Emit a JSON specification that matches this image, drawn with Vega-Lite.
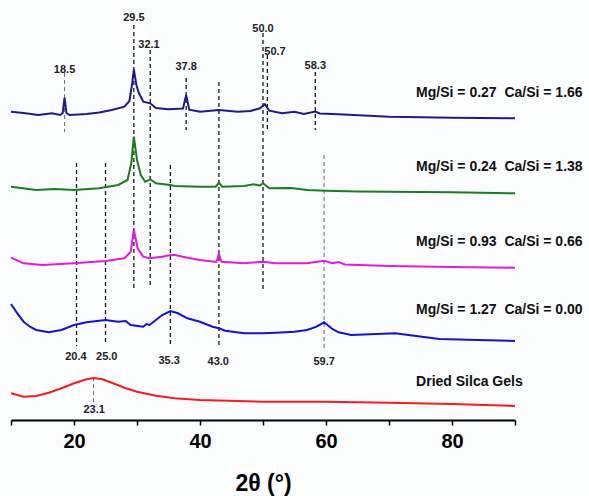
{
  "$schema": "https://vega.github.io/schema/vega-lite/v6.json",
  "width": 504,
  "height": 410,
  "autosize": {"type": "none"},
  "padding": {"left": 11, "top": 10, "right": 74, "bottom": 76},
  "background": "#fbfcfe",
  "config": {"view": {"stroke": null}, "font": "Liberation Sans"},
  "datasets": {
    "spectra": [
      {"sample": "Mg/Si = 0.27 Ca/Si = 1.66", "x": 10, "y": 308.3},
      {"sample": "Mg/Si = 0.27 Ca/Si = 1.66", "x": 12, "y": 307},
      {"sample": "Mg/Si = 0.27 Ca/Si = 1.66", "x": 14.3, "y": 305},
      {"sample": "Mg/Si = 0.27 Ca/Si = 1.66", "x": 16.5, "y": 306.7},
      {"sample": "Mg/Si = 0.27 Ca/Si = 1.66", "x": 17.8, "y": 305},
      {"sample": "Mg/Si = 0.27 Ca/Si = 1.66", "x": 18.2, "y": 307},
      {"sample": "Mg/Si = 0.27 Ca/Si = 1.66", "x": 18.5, "y": 322.3},
      {"sample": "Mg/Si = 0.27 Ca/Si = 1.66", "x": 18.8, "y": 307},
      {"sample": "Mg/Si = 0.27 Ca/Si = 1.66", "x": 19.3, "y": 305},
      {"sample": "Mg/Si = 0.27 Ca/Si = 1.66", "x": 22, "y": 306},
      {"sample": "Mg/Si = 0.27 Ca/Si = 1.66", "x": 24, "y": 307.5},
      {"sample": "Mg/Si = 0.27 Ca/Si = 1.66", "x": 26, "y": 310},
      {"sample": "Mg/Si = 0.27 Ca/Si = 1.66", "x": 28, "y": 313.3},
      {"sample": "Mg/Si = 0.27 Ca/Si = 1.66", "x": 28.8, "y": 319},
      {"sample": "Mg/Si = 0.27 Ca/Si = 1.66", "x": 29.2, "y": 335},
      {"sample": "Mg/Si = 0.27 Ca/Si = 1.66", "x": 29.5, "y": 350.7},
      {"sample": "Mg/Si = 0.27 Ca/Si = 1.66", "x": 29.9, "y": 335},
      {"sample": "Mg/Si = 0.27 Ca/Si = 1.66", "x": 30.3, "y": 327},
      {"sample": "Mg/Si = 0.27 Ca/Si = 1.66", "x": 31, "y": 318.3},
      {"sample": "Mg/Si = 0.27 Ca/Si = 1.66", "x": 32.1, "y": 316.7},
      {"sample": "Mg/Si = 0.27 Ca/Si = 1.66", "x": 33, "y": 312},
      {"sample": "Mg/Si = 0.27 Ca/Si = 1.66", "x": 35, "y": 310.7},
      {"sample": "Mg/Si = 0.27 Ca/Si = 1.66", "x": 37.3, "y": 311.5},
      {"sample": "Mg/Si = 0.27 Ca/Si = 1.66", "x": 37.8, "y": 325},
      {"sample": "Mg/Si = 0.27 Ca/Si = 1.66", "x": 38.3, "y": 310.3},
      {"sample": "Mg/Si = 0.27 Ca/Si = 1.66", "x": 40, "y": 308.3},
      {"sample": "Mg/Si = 0.27 Ca/Si = 1.66", "x": 43, "y": 310},
      {"sample": "Mg/Si = 0.27 Ca/Si = 1.66", "x": 46, "y": 308.3},
      {"sample": "Mg/Si = 0.27 Ca/Si = 1.66", "x": 48, "y": 309},
      {"sample": "Mg/Si = 0.27 Ca/Si = 1.66", "x": 49.5, "y": 311.7},
      {"sample": "Mg/Si = 0.27 Ca/Si = 1.66", "x": 50.3, "y": 315.7},
      {"sample": "Mg/Si = 0.27 Ca/Si = 1.66", "x": 51, "y": 309.3},
      {"sample": "Mg/Si = 0.27 Ca/Si = 1.66", "x": 53, "y": 306.7},
      {"sample": "Mg/Si = 0.27 Ca/Si = 1.66", "x": 55, "y": 308.3},
      {"sample": "Mg/Si = 0.27 Ca/Si = 1.66", "x": 56.5, "y": 306},
      {"sample": "Mg/Si = 0.27 Ca/Si = 1.66", "x": 58.3, "y": 308.5},
      {"sample": "Mg/Si = 0.27 Ca/Si = 1.66", "x": 59, "y": 306.5},
      {"sample": "Mg/Si = 0.27 Ca/Si = 1.66", "x": 62, "y": 305.7},
      {"sample": "Mg/Si = 0.27 Ca/Si = 1.66", "x": 66, "y": 304.5},
      {"sample": "Mg/Si = 0.27 Ca/Si = 1.66", "x": 70, "y": 303.3},
      {"sample": "Mg/Si = 0.27 Ca/Si = 1.66", "x": 80, "y": 302.3},
      {"sample": "Mg/Si = 0.27 Ca/Si = 1.66", "x": 90, "y": 301.7},

      {"sample": "Mg/Si = 0.24 Ca/Si = 1.38", "x": 10, "y": 233.3},
      {"sample": "Mg/Si = 0.24 Ca/Si = 1.38", "x": 14, "y": 230},
      {"sample": "Mg/Si = 0.24 Ca/Si = 1.38", "x": 17, "y": 231},
      {"sample": "Mg/Si = 0.24 Ca/Si = 1.38", "x": 20, "y": 230},
      {"sample": "Mg/Si = 0.24 Ca/Si = 1.38", "x": 24, "y": 231.7},
      {"sample": "Mg/Si = 0.24 Ca/Si = 1.38", "x": 27, "y": 235},
      {"sample": "Mg/Si = 0.24 Ca/Si = 1.38", "x": 28.5, "y": 240},
      {"sample": "Mg/Si = 0.24 Ca/Si = 1.38", "x": 29.1, "y": 257},
      {"sample": "Mg/Si = 0.24 Ca/Si = 1.38", "x": 29.5, "y": 283.3},
      {"sample": "Mg/Si = 0.24 Ca/Si = 1.38", "x": 30, "y": 260},
      {"sample": "Mg/Si = 0.24 Ca/Si = 1.38", "x": 30.6, "y": 245},
      {"sample": "Mg/Si = 0.24 Ca/Si = 1.38", "x": 31.3, "y": 238.3},
      {"sample": "Mg/Si = 0.24 Ca/Si = 1.38", "x": 32.1, "y": 240.7},
      {"sample": "Mg/Si = 0.24 Ca/Si = 1.38", "x": 33, "y": 236.7},
      {"sample": "Mg/Si = 0.24 Ca/Si = 1.38", "x": 35.3, "y": 235},
      {"sample": "Mg/Si = 0.24 Ca/Si = 1.38", "x": 36, "y": 234},
      {"sample": "Mg/Si = 0.24 Ca/Si = 1.38", "x": 40, "y": 233.3},
      {"sample": "Mg/Si = 0.24 Ca/Si = 1.38", "x": 42.5, "y": 233.3},
      {"sample": "Mg/Si = 0.24 Ca/Si = 1.38", "x": 43, "y": 237.3},
      {"sample": "Mg/Si = 0.24 Ca/Si = 1.38", "x": 43.5, "y": 233.3},
      {"sample": "Mg/Si = 0.24 Ca/Si = 1.38", "x": 47, "y": 234},
      {"sample": "Mg/Si = 0.24 Ca/Si = 1.38", "x": 48.5, "y": 235.7},
      {"sample": "Mg/Si = 0.24 Ca/Si = 1.38", "x": 49.5, "y": 234.5},
      {"sample": "Mg/Si = 0.24 Ca/Si = 1.38", "x": 50, "y": 236.7},
      {"sample": "Mg/Si = 0.24 Ca/Si = 1.38", "x": 51, "y": 231.7},
      {"sample": "Mg/Si = 0.24 Ca/Si = 1.38", "x": 54.5, "y": 232},
      {"sample": "Mg/Si = 0.24 Ca/Si = 1.38", "x": 57, "y": 230},
      {"sample": "Mg/Si = 0.24 Ca/Si = 1.38", "x": 60, "y": 229.3},
      {"sample": "Mg/Si = 0.24 Ca/Si = 1.38", "x": 65, "y": 228.5},
      {"sample": "Mg/Si = 0.24 Ca/Si = 1.38", "x": 70, "y": 228.3},
      {"sample": "Mg/Si = 0.24 Ca/Si = 1.38", "x": 80, "y": 227.7},
      {"sample": "Mg/Si = 0.24 Ca/Si = 1.38", "x": 90, "y": 226.7},

      {"sample": "Mg/Si = 0.93 Ca/Si = 0.66", "x": 10, "y": 162.3},
      {"sample": "Mg/Si = 0.93 Ca/Si = 0.66", "x": 12, "y": 156.7},
      {"sample": "Mg/Si = 0.93 Ca/Si = 0.66", "x": 15, "y": 155},
      {"sample": "Mg/Si = 0.93 Ca/Si = 0.66", "x": 20, "y": 156.7},
      {"sample": "Mg/Si = 0.93 Ca/Si = 0.66", "x": 25, "y": 159},
      {"sample": "Mg/Si = 0.93 Ca/Si = 0.66", "x": 28, "y": 161.7},
      {"sample": "Mg/Si = 0.93 Ca/Si = 0.66", "x": 29, "y": 168.3},
      {"sample": "Mg/Si = 0.93 Ca/Si = 0.66", "x": 29.5, "y": 190},
      {"sample": "Mg/Si = 0.93 Ca/Si = 0.66", "x": 30.1, "y": 171.7},
      {"sample": "Mg/Si = 0.93 Ca/Si = 0.66", "x": 31, "y": 163.3},
      {"sample": "Mg/Si = 0.93 Ca/Si = 0.66", "x": 32, "y": 161.7},
      {"sample": "Mg/Si = 0.93 Ca/Si = 0.66", "x": 34, "y": 163.3},
      {"sample": "Mg/Si = 0.93 Ca/Si = 0.66", "x": 35.3, "y": 165},
      {"sample": "Mg/Si = 0.93 Ca/Si = 0.66", "x": 36, "y": 165},
      {"sample": "Mg/Si = 0.93 Ca/Si = 0.66", "x": 38, "y": 162.3},
      {"sample": "Mg/Si = 0.93 Ca/Si = 0.66", "x": 40, "y": 160},
      {"sample": "Mg/Si = 0.93 Ca/Si = 0.66", "x": 42.6, "y": 158},
      {"sample": "Mg/Si = 0.93 Ca/Si = 0.66", "x": 43, "y": 166},
      {"sample": "Mg/Si = 0.93 Ca/Si = 0.66", "x": 43.4, "y": 158.3},
      {"sample": "Mg/Si = 0.93 Ca/Si = 0.66", "x": 47, "y": 156.7},
      {"sample": "Mg/Si = 0.93 Ca/Si = 0.66", "x": 50, "y": 158.3},
      {"sample": "Mg/Si = 0.93 Ca/Si = 0.66", "x": 52, "y": 156.7},
      {"sample": "Mg/Si = 0.93 Ca/Si = 0.66", "x": 57, "y": 156.7},
      {"sample": "Mg/Si = 0.93 Ca/Si = 0.66", "x": 59.7, "y": 159.3},
      {"sample": "Mg/Si = 0.93 Ca/Si = 0.66", "x": 61, "y": 156.7},
      {"sample": "Mg/Si = 0.93 Ca/Si = 0.66", "x": 62, "y": 158},
      {"sample": "Mg/Si = 0.93 Ca/Si = 0.66", "x": 63, "y": 155.5},
      {"sample": "Mg/Si = 0.93 Ca/Si = 0.66", "x": 70, "y": 154},
      {"sample": "Mg/Si = 0.93 Ca/Si = 0.66", "x": 80, "y": 153},
      {"sample": "Mg/Si = 0.93 Ca/Si = 0.66", "x": 90, "y": 152.3},

      {"sample": "Mg/Si = 1.27 Ca/Si = 0.00", "x": 10, "y": 116},
      {"sample": "Mg/Si = 1.27 Ca/Si = 0.00", "x": 11, "y": 106.7},
      {"sample": "Mg/Si = 1.27 Ca/Si = 0.00", "x": 12, "y": 98.3},
      {"sample": "Mg/Si = 1.27 Ca/Si = 0.00", "x": 13, "y": 93.3},
      {"sample": "Mg/Si = 1.27 Ca/Si = 0.00", "x": 14, "y": 90},
      {"sample": "Mg/Si = 1.27 Ca/Si = 0.00", "x": 16, "y": 87.7},
      {"sample": "Mg/Si = 1.27 Ca/Si = 0.00", "x": 18, "y": 90},
      {"sample": "Mg/Si = 1.27 Ca/Si = 0.00", "x": 20, "y": 95},
      {"sample": "Mg/Si = 1.27 Ca/Si = 0.00", "x": 22, "y": 97.7},
      {"sample": "Mg/Si = 1.27 Ca/Si = 0.00", "x": 25, "y": 100},
      {"sample": "Mg/Si = 1.27 Ca/Si = 0.00", "x": 27, "y": 98.3},
      {"sample": "Mg/Si = 1.27 Ca/Si = 0.00", "x": 28.2, "y": 99},
      {"sample": "Mg/Si = 1.27 Ca/Si = 0.00", "x": 29, "y": 95},
      {"sample": "Mg/Si = 1.27 Ca/Si = 0.00", "x": 31, "y": 93.3},
      {"sample": "Mg/Si = 1.27 Ca/Si = 0.00", "x": 31.5, "y": 96},
      {"sample": "Mg/Si = 1.27 Ca/Si = 0.00", "x": 32, "y": 95},
      {"sample": "Mg/Si = 1.27 Ca/Si = 0.00", "x": 33, "y": 100},
      {"sample": "Mg/Si = 1.27 Ca/Si = 0.00", "x": 34, "y": 105},
      {"sample": "Mg/Si = 1.27 Ca/Si = 0.00", "x": 35.3, "y": 109},
      {"sample": "Mg/Si = 1.27 Ca/Si = 0.00", "x": 36.5, "y": 106.7},
      {"sample": "Mg/Si = 1.27 Ca/Si = 0.00", "x": 38, "y": 101.7},
      {"sample": "Mg/Si = 1.27 Ca/Si = 0.00", "x": 40, "y": 98.3},
      {"sample": "Mg/Si = 1.27 Ca/Si = 0.00", "x": 42, "y": 93.3},
      {"sample": "Mg/Si = 1.27 Ca/Si = 0.00", "x": 43, "y": 91.7},
      {"sample": "Mg/Si = 1.27 Ca/Si = 0.00", "x": 44, "y": 89.3},
      {"sample": "Mg/Si = 1.27 Ca/Si = 0.00", "x": 47, "y": 86.7},
      {"sample": "Mg/Si = 1.27 Ca/Si = 0.00", "x": 50, "y": 86.7},
      {"sample": "Mg/Si = 1.27 Ca/Si = 0.00", "x": 52, "y": 87.3},
      {"sample": "Mg/Si = 1.27 Ca/Si = 0.00", "x": 55, "y": 88.3},
      {"sample": "Mg/Si = 1.27 Ca/Si = 0.00", "x": 57, "y": 90},
      {"sample": "Mg/Si = 1.27 Ca/Si = 0.00", "x": 58.5, "y": 93.3},
      {"sample": "Mg/Si = 1.27 Ca/Si = 0.00", "x": 59.7, "y": 97.7},
      {"sample": "Mg/Si = 1.27 Ca/Si = 0.00", "x": 61, "y": 91},
      {"sample": "Mg/Si = 1.27 Ca/Si = 0.00", "x": 62, "y": 87.7},
      {"sample": "Mg/Si = 1.27 Ca/Si = 0.00", "x": 64, "y": 85},
      {"sample": "Mg/Si = 1.27 Ca/Si = 0.00", "x": 67, "y": 85.7},
      {"sample": "Mg/Si = 1.27 Ca/Si = 0.00", "x": 71, "y": 86.7},
      {"sample": "Mg/Si = 1.27 Ca/Si = 0.00", "x": 74, "y": 84.3},
      {"sample": "Mg/Si = 1.27 Ca/Si = 0.00", "x": 78, "y": 81},
      {"sample": "Mg/Si = 1.27 Ca/Si = 0.00", "x": 84, "y": 80},
      {"sample": "Mg/Si = 1.27 Ca/Si = 0.00", "x": 90, "y": 79},

      {"sample": "Dried Silca Gels", "x": 10, "y": 26.7},
      {"sample": "Dried Silca Gels", "x": 12, "y": 23.3},
      {"sample": "Dried Silca Gels", "x": 14, "y": 24},
      {"sample": "Dried Silca Gels", "x": 16, "y": 27.3},
      {"sample": "Dried Silca Gels", "x": 18, "y": 31.7},
      {"sample": "Dried Silca Gels", "x": 20, "y": 36.7},
      {"sample": "Dried Silca Gels", "x": 22, "y": 40.7},
      {"sample": "Dried Silca Gels", "x": 23.1, "y": 42},
      {"sample": "Dried Silca Gels", "x": 24.5, "y": 40.7},
      {"sample": "Dried Silca Gels", "x": 26, "y": 37.3},
      {"sample": "Dried Silca Gels", "x": 28, "y": 32.3},
      {"sample": "Dried Silca Gels", "x": 30, "y": 28.3},
      {"sample": "Dried Silca Gels", "x": 33, "y": 24.3},
      {"sample": "Dried Silca Gels", "x": 36, "y": 21.7},
      {"sample": "Dried Silca Gels", "x": 40, "y": 20},
      {"sample": "Dried Silca Gels", "x": 50, "y": 18.3},
      {"sample": "Dried Silca Gels", "x": 60, "y": 18.3},
      {"sample": "Dried Silca Gels", "x": 70, "y": 17.3},
      {"sample": "Dried Silca Gels", "x": 80, "y": 16},
      {"sample": "Dried Silca Gels", "x": 90, "y": 14}
    ],
    "peaks": [
      {"peak": "18.5", "x": 18.5, "y": 347, "y2": 288, "lx": 18.5, "ly": 350},
      {"peak": "29.5", "x": 29.5, "y": 395, "y2": 132, "lx": 29.5, "ly": 402},
      {"peak": "32.1", "x": 32.1, "y": 370, "y2": 132, "lx": 31.9, "ly": 375},
      {"peak": "37.8", "x": 37.8, "y": 342, "y2": 290, "lx": 37.8, "ly": 353},
      {"peak": "43.0", "x": 43.0, "y": 338, "y2": 73, "lx": 42.9, "ly": 58},
      {"peak": "50.0", "x": 50.0, "y": 387, "y2": 130, "lx": 50.0, "ly": 391},
      {"peak": "50.7", "x": 50.7, "y": 365, "y2": 290, "lx": 51.9, "ly": 368},
      {"peak": "58.3", "x": 58.3, "y": 348, "y2": 290, "lx": 58.3, "ly": 354},
      {"peak": "20.4", "x": 20.4, "y": 257, "y2": 74, "lx": 20.3, "ly": 63},
      {"peak": "25.0", "x": 25.0, "y": 257, "y2": 75, "lx": 25.2, "ly": 63},
      {"peak": "35.3", "x": 35.3, "y": 255, "y2": 74, "lx": 35.1, "ly": 59},
      {"peak": "59.7", "x": 59.7, "y": 265, "y2": 72, "lx": 59.7, "ly": 58},
      {"peak": "23.1", "x": 23.1, "y": 43, "y2": 18, "lx": 23.2, "ly": 10}
    ],
    "names": [
      {"name": "Mg/Si = 0.27\u00a0\u00a0Ca/Si = 1.66", "x": 74.3, "y": 327},
      {"name": "Mg/Si = 0.24\u00a0\u00a0Ca/Si = 1.38", "x": 74.3, "y": 253},
      {"name": "Mg/Si = 0.93\u00a0\u00a0Ca/Si = 0.66", "x": 74.3, "y": 178},
      {"name": "Mg/Si = 1.27\u00a0\u00a0Ca/Si = 0.00", "x": 74.3, "y": 110},
      {"name": "Dried Silca Gels", "x": 74.3, "y": 38}
    ]
  },
  "encoding": {
    "x": {
      "field": "x",
      "type": "quantitative",
      "scale": {"domain": [10, 90], "nice": false, "zero": false},
      "axis": {
        "values": [10, 20, 30, 40, 50, 60, 70, 80, 90],
        "labelExpr": "datum.value % 20 == 0 ? datum.label : ''",
        "labelOverlap": false,
        "labelFontSize": 20,
        "labelFontWeight": "bold",
        "labelColor": "#000000",
        "labelPadding": 6,
        "domainColor": "#000000",
        "domainWidth": 2,
        "tickColor": "#000000",
        "tickWidth": 1.5,
        "tickSize": 5,
        "grid": false,
        "title": "2θ (°)",
        "titleFontSize": 23,
        "titleFontWeight": "bold",
        "titleColor": "#000000",
        "titlePadding": 21
      }
    },
    "y": {
      "field": "y",
      "type": "quantitative",
      "scale": {"domain": [0, 410], "nice": false, "zero": false},
      "axis": null
    }
  },
  "layer": [
    {
      "data": {"name": "peaks"},
      "transform": [{"filter": {"field": "peak", "oneOf": ["18.5", "59.7", "23.1"]}}],
      "mark": {"type": "rule", "strokeDash": [4, 3], "strokeWidth": 1.1, "color": "#777777"},
      "encoding": {"y2": {"field": "y2"}}
    },
    {
      "data": {"name": "peaks"},
      "transform": [{"filter": {"not": {"field": "peak", "oneOf": ["18.5", "59.7", "23.1"]}}}],
      "mark": {"type": "rule", "strokeDash": [4, 3], "strokeWidth": 1.3, "color": "#1a1a1a"},
      "encoding": {"y2": {"field": "y2"}}
    },
    {
      "data": {"name": "spectra"},
      "mark": {"type": "line", "strokeWidth": 2},
      "encoding": {
        "color": {
          "field": "sample",
          "type": "nominal",
          "scale": {
            "domain": ["Mg/Si = 0.27 Ca/Si = 1.66", "Mg/Si = 0.24 Ca/Si = 1.38", "Mg/Si = 0.93 Ca/Si = 0.66", "Mg/Si = 1.27 Ca/Si = 0.00", "Dried Silca Gels"],
            "range": ["#1c1a8c", "#1c7d1c", "#e21cdc", "#1414cc", "#f51d1d"]
          },
          "legend": null
        }
      }
    },
    {
      "data": {"name": "peaks"},
      "mark": {"type": "text", "fontSize": 11, "fontWeight": "bold", "color": "#222222", "baseline": "middle", "align": "center"},
      "encoding": {
        "x": {"field": "lx", "type": "quantitative"},
        "y": {"field": "ly", "type": "quantitative"},
        "text": {"field": "peak"}
      }
    },
    {
      "data": {"name": "names"},
      "mark": {"type": "text", "fontSize": 14, "fontWeight": "bold", "color": "#111111", "baseline": "middle", "align": "left"},
      "encoding": {"text": {"field": "name"}}
    }
  ]
}
